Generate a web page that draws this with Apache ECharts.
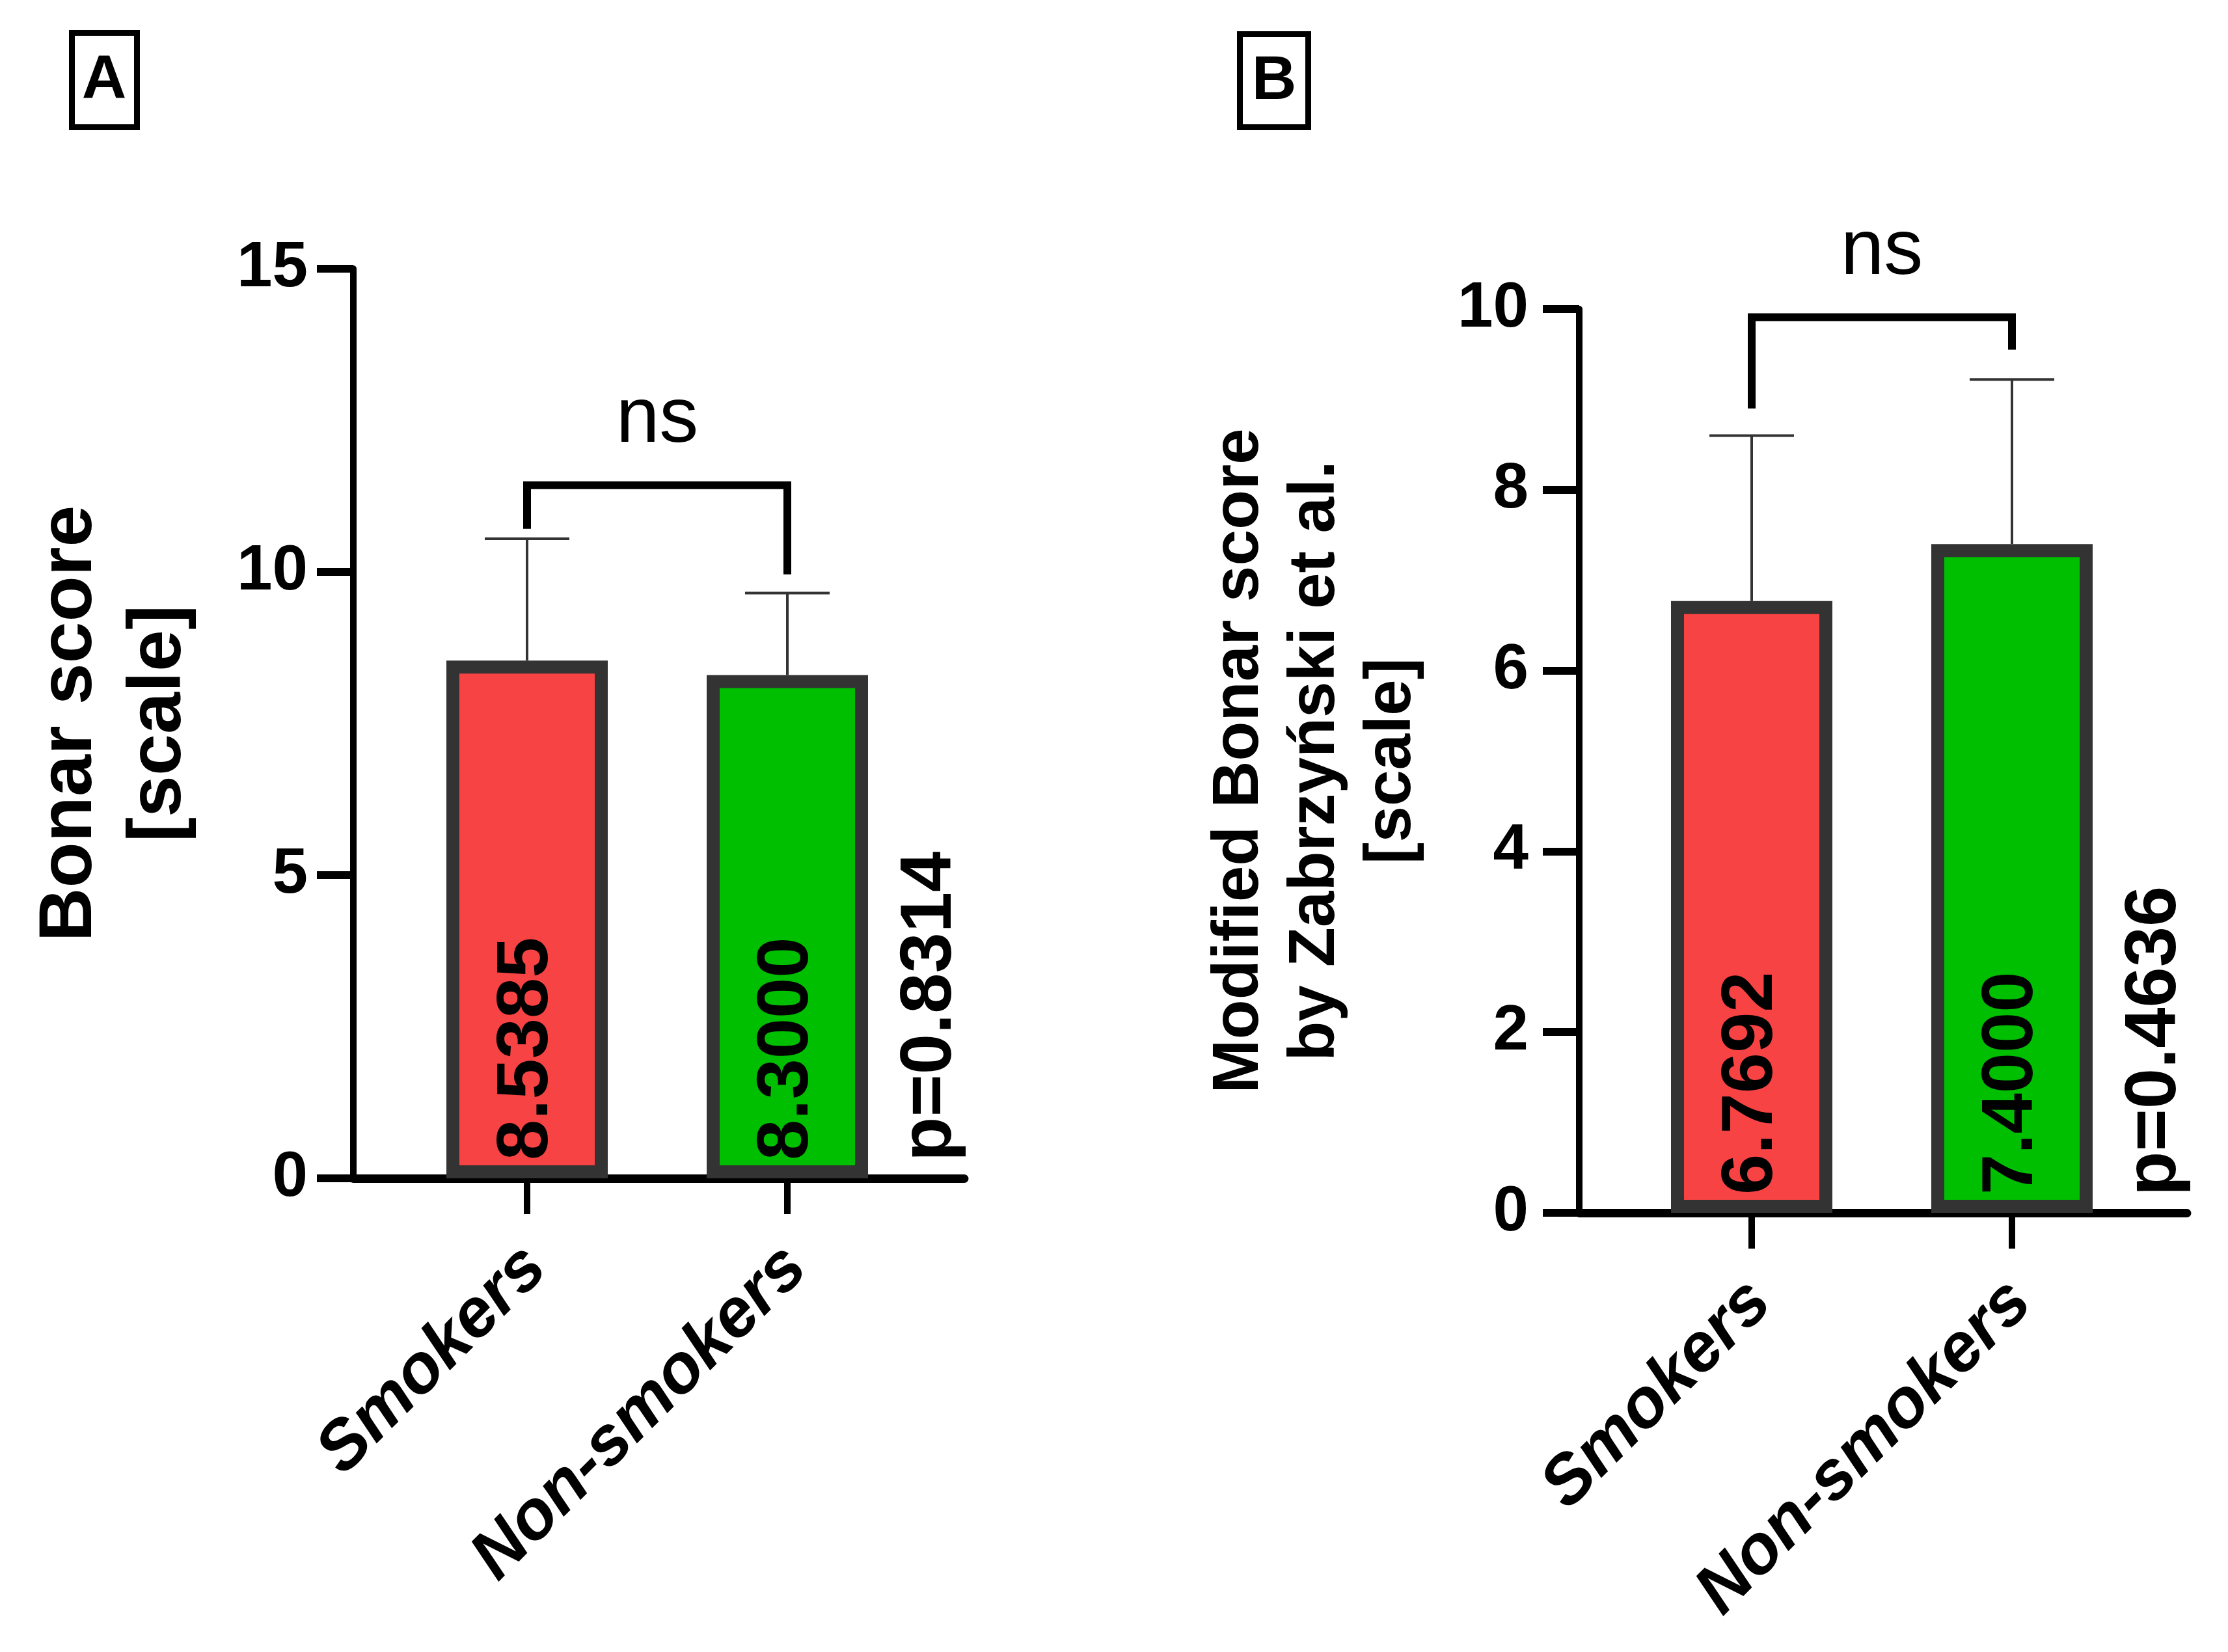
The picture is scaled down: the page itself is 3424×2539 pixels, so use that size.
<!DOCTYPE html>
<html><head><meta charset="utf-8">
<script src="https://cdn.jsdelivr.net/npm/echarts@6/dist/echarts.min.js"></script>
<style>html,body{margin:0;padding:0;background:#fff}#c{width:3424px;height:2539px}</style>
</head><body><div id="c"></div>
<script>
// ---- data ----
const categories = ['Smokers', 'Non-smokers'];
const barColors = ['#F74343', '#00BF00'];
// Panel A: Bonar score
const bonarMeans = [8.5385, 8.3000];
const bonarSD = [2.01, 1.35];
const bonarBracket = [11.43, 10.71, 9.96];   // top, left end, right end
const bonarP = 'p=0.8314';
const bonarYTicks = [0, 5, 10, 15];
// Panel B: Modified Bonar score
const modMeans = [6.7692, 7.4000];
const modSD = [1.83, 1.82];
const modBracket = [9.91, 8.90, 9.55];
const modP = 'p=0.4636';
const modYTicks = [0, 2, 4, 6, 8, 10];
const sigLabel = 'ns';
const panelLetters = ['A', 'B'];
const titleA = 'Bonar score\n[scale]';
const titleB = 'Modified Bonar score\nby Zabrzyński et al.\n[scale]';

// ---- styling ----
const FONT = "'Liberation Sans', Arial, Helvetica, sans-serif";
const pLabelX = 2.55;
const xPos = categories.map((c, i) => i + 1);

const chart = echarts.init(document.getElementById('c'), null, {renderer: 'canvas'});

function errorBarItem(params, api) {
  const x = api.value(0), m = api.value(1), sd = api.value(2);
  const p0 = api.coord([x, m]);
  const p1 = api.coord([x, m + sd]);
  const half = 65;
  return {type: 'group', children: [
    {type: 'line', shape: {x1: p0[0], y1: p0[1], x2: p1[0], y2: p1[1]}, style: {stroke: '#333', lineWidth: 4}},
    {type: 'line', shape: {x1: p1[0] - half, y1: p1[1], x2: p1[0] + half, y2: p1[1]}, style: {stroke: '#333', lineWidth: 4}}
  ]};
}
function bracketItem(params, api) {
  const a = api.coord([api.value(0), api.value(3)]);
  const b = api.coord([api.value(0), api.value(2)]);
  const c = api.coord([api.value(1), api.value(2)]);
  const d = api.coord([api.value(1), api.value(4)]);
  return {type: 'group', children: [
    {type: 'polyline', shape: {points: [a, b, c, d]}, style: {stroke: '#000', lineWidth: 12, fill: null, lineJoin: 'miter', lineCap: 'butt'}},
    {type: 'text', x: (b[0] + c[0]) / 2, y: b[1] - 40, style: {text: sigLabel, fontSize: 120, fontFamily: FONT, fill: '#000', align: 'center', verticalAlign: 'bottom'}}
  ]};
}
function pTextItemFor(txt) {
  return function (params, api) {
    const p = api.coord([api.value(0), 0]);
    return {type: 'text', x: p[0], y: p[1] - 26, rotation: Math.PI / 2,
      style: {text: txt, fontSize: 112, fontWeight: 'bold', fontFamily: FONT, fill: '#000', align: 'left', verticalAlign: 'middle'}};
  };
}

function makeX(gridIndex, min, max) {
  return {
    type: 'value', gridIndex, min, max,
    splitLine: {show: false},
    axisLine: {show: true, onZero: false, lineStyle: {color: '#000', width: 13}},
    axisTick: {show: true, customValues: xPos, length: 55, lineStyle: {color: '#000', width: 10}},
    axisLabel: {
      show: true, customValues: xPos, formatter: v => categories[Math.round(v) - 1] || '',
      rotate: 45, align: 'right', verticalAlign: 'top', margin: 60, padding: [0, 34, 0, 0],
      fontSize: 106, fontWeight: 'bold', fontStyle: 'italic', fontFamily: FONT, color: '#000'
    }
  };
}
function makeY(gridIndex, ticks, name, nameSize, lineH, margin) {
  return {
    type: 'value', gridIndex, min: ticks[0], max: ticks[ticks.length - 1], interval: ticks[1] - ticks[0],
    splitLine: {show: false},
    axisLine: {show: true, onZero: false, lineStyle: {color: '#000', width: 10}},
    axisTick: {show: true, length: 56, lineStyle: {color: '#000', width: 12}},
    axisLabel: {margin, fontSize: 98, fontWeight: 'bold', fontFamily: FONT, color: '#000'},
    name, nameLocation: 'middle', nameRotate: 90, nameGap: 229,
    nameTextStyle: {fontSize: nameSize, fontWeight: 'bold', fontFamily: FONT, color: '#000', lineHeight: lineH, align: 'center'}
  };
}
function barSeries(idx, means) {
  return {
    type: 'bar', xAxisIndex: idx, yAxisIndex: idx, barWidth: 248, z: 3,
    data: means.map((v, i) => ({value: [xPos[i], v], itemStyle: {color: barColors[i]}})),
    itemStyle: {borderColor: '#333', borderWidth: 20},
    label: {show: true, position: 'insideBottom', rotate: 90, align: 'left', verticalAlign: 'middle', distance: 28,
      formatter: p => p.value[1].toFixed(4), fontSize: 112, fontWeight: 'bold', fontFamily: FONT, color: '#000'}
  };
}
function errSeries(idx, means, sds) {
  return {type: 'custom', xAxisIndex: idx, yAxisIndex: idx, z: 2, renderItem: errorBarItem,
    data: means.map((m, i) => [xPos[i], m, sds[i]])};
}
function bracketSeries(idx, br) {
  return {type: 'custom', xAxisIndex: idx, yAxisIndex: idx, z: 4, clip: false, renderItem: bracketItem,
    data: [[xPos[0], xPos[1], br[0], br[1], br[2]]]};
}
function pSeries(idx, txt) {
  return {type: 'custom', xAxisIndex: idx, yAxisIndex: idx, z: 4, clip: false, renderItem: pTextItemFor(txt),
    data: [[pLabelX, 0]]};
}

chart.setOption({
  backgroundColor: '#fff',
  animation: false,
  textStyle: {fontFamily: FONT},
  grid: [
    {left: 543, right: 1942, top: 413, bottom: 728, outerBoundsMode: 'none', containLabel: false},
    {left: 2427, right: 63, top: 475, bottom: 675, outerBoundsMode: 'none', containLabel: false}
  ],
  xAxis: [makeX(0, 0.3325, 2.68), makeX(1, 0.3375, 2.6725)],
  yAxis: [
    makeY(0, bonarYTicks, titleA, 115, 137, 70),
    makeY(1, modYTicks, titleB, 100, 117, 78)
  ],
  series: [
    errSeries(0, bonarMeans, bonarSD), barSeries(0, bonarMeans), bracketSeries(0, bonarBracket), pSeries(0, bonarP),
    errSeries(1, modMeans, modSD), barSeries(1, modMeans), bracketSeries(1, modBracket), pSeries(1, modP)
  ],
  graphic: [
    {type: 'rect', shape: {x: 110.5, y: 50.5, width: 100, height: 145}, style: {fill: '#fff', stroke: '#000', lineWidth: 9}},
    {type: 'text', x: 160, y: 125, style: {text: panelLetters[0], fontSize: 95, fontWeight: 'bold', fontFamily: FONT, fill: '#000', align: 'center', verticalAlign: 'middle'}},
    {type: 'rect', shape: {x: 1905.5, y: 52.5, width: 105, height: 143}, style: {fill: '#fff', stroke: '#000', lineWidth: 9}},
    {type: 'text', x: 1958, y: 126, style: {text: panelLetters[1], fontSize: 95, fontWeight: 'bold', fontFamily: FONT, fill: '#000', align: 'center', verticalAlign: 'middle'}}
  ]
});
</script>
</body></html>
